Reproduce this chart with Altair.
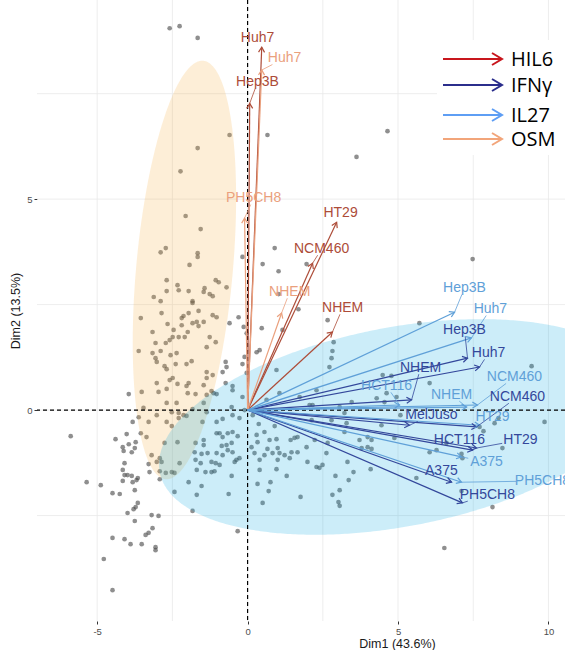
import math

import altair as alt
import numpy as np
import pandas as pd

# ---------------------------------------------------------------------------
# PCA scores of the individual samples (Dim1, Dim2)
# ---------------------------------------------------------------------------
scores = [
    # upper region
    (-2.59, 9.05), (-2.26, 9.10), (-1.66, 8.82), (-0.60, 6.52), (-1.66, 6.21),
    (-2.23, 5.66), (0.66, 6.52), (4.65, 6.61), (3.62, 6.00), (0.90, 3.84),
    (0.50, 3.46), (1.03, 3.29), (1.96, 3.46), (7.48, 3.58), (-0.17, 3.63),
    (1.03, 2.75), (1.69, 2.39), (2.66, 2.13), (-0.13, 1.97), (0.47, 1.94),
    # left cluster, upper part
    (-2.06, 4.60), (-1.56, 4.29), (-2.89, 3.74), (-2.72, 3.84), (-1.66, 3.72),
    (-1.66, 3.63), (-1.93, 3.44), (-2.69, 3.08), (-2.33, 2.96), (-1.06, 3.08),
    (-0.96, 3.03), (-0.70, 2.91), (-2.69, 2.82), (-2.29, 2.84), (-1.96, 2.82),
    (-1.43, 2.89), (-1.46, 2.80), (-1.26, 2.75), (-1.16, 2.70), (-3.12, 2.68),
    (-2.89, 2.58), (-1.83, 2.58), (-1.83, 2.54), (-1.63, 2.35), (-2.86, 2.30),
    (-3.55, 2.18), (-1.96, 2.30), (-2.13, 2.23), (-2.19, 2.18), (-1.16, 2.25),
    (-1.03, 2.20), (-0.60, 2.06), (-0.30, 2.20), (-2.66, 2.04), (-2.19, 2.01),
    (-1.83, 2.06), (-1.69, 2.09), (-1.63, 1.99), (-1.46, 2.09), (-2.46, 1.90),
    (-1.99, 1.85), (-3.16, 1.85), (-1.26, 1.73), (-2.49, 1.73), (-2.29, 1.73),
    (-2.09, 1.73), (-2.59, 1.66), (-2.72, 1.59), (-3.06, 1.59), (-1.36, 1.49),
    (-1.06, 1.61), (-3.62, 1.40), (-3.16, 1.35), (-2.89, 1.40), (-2.56, 1.30),
    (-2.36, 1.35), (-3.06, 1.23), (-3.02, 1.14), (-1.86, 1.16), (-2.03, 1.09),
    (-2.39, 1.09), (-2.76, 1.04), (-2.69, 0.97), (-0.73, 1.14), (-0.70, 1.02),
    (-0.17, 1.09), (-0.10, 1.26), (-1.36, 0.90), (-1.16, 0.83), (-0.83, 0.90),
    (-2.49, 0.76), (-2.59, 0.71), (-3.02, 0.64), (-2.33, 0.62), (-2.03, 0.57),
    (-1.96, 0.64), (-1.46, 0.59), (-1.36, 0.76), (-0.73, 0.64), (-0.50, 0.57),
    (-0.50, 0.47), (-3.95, 0.38), (-3.52, 0.43), (-2.96, 0.43), (-2.69, 0.50),
    (-1.99, 0.40), (-1.73, 0.38), (-1.36, 0.36), (-1.20, 0.45), (-1.13, 0.40),
    (-1.03, 0.38), (-0.17, 0.31),
    # left cluster, lower part
    (-2.69, 0.17), (-2.36, 0.17), (-1.46, 0.17), (-3.46, 0.05), (-3.02, -0.12),
    (-2.52, -0.05), (-2.29, -0.07), (-2.13, -0.12), (-2.03, -0.14), (-1.83, 0.02),
    (-1.36, -0.05), (-3.62, -0.17), (-3.82, -0.28), (-3.29, -0.28), (-2.69, -0.28),
    (-2.52, -0.38), (-2.29, -0.19), (-1.03, -0.28), (-1.50, -0.28), (-0.83, -0.21),
    (-0.50, -0.12), (-0.27, -0.19), (-0.10, 0.00), (-0.53, 0.07), (-5.88, -0.62),
    (-4.39, -0.69), (-4.02, -0.57), (-3.55, -0.55), (-3.36, -0.64), (-3.72, -0.76),
    (-3.95, -0.81), (-4.15, -0.88), (-4.12, -0.97), (-3.85, -1.00), (-3.75, -0.90),
    (-2.76, -0.78), (-2.33, -0.76), (-1.73, -0.78), (-1.46, -0.71), (-1.46, -0.83),
    (-1.03, -0.55), (-0.93, -0.55), (-0.83, -0.64), (-0.66, -0.55), (-0.50, -0.52),
    (-0.33, -0.62), (-0.70, -0.83), (-0.53, -0.78), (-0.86, -0.85), (-1.76, -1.00),
    (-1.53, -1.04), (-1.33, -1.02), (-1.03, -1.02), (-0.83, -1.07), (-0.66, -0.95),
    (-0.50, -1.00), (-0.43, -1.23), (-0.37, -1.18), (-0.27, -1.14), (-3.19, -1.07),
    (-2.92, -1.14), (-3.02, -1.23), (-2.86, -1.23), (-3.29, -1.28), (-2.26, -1.26),
    (-1.73, -1.18), (-1.56, -1.26), (-1.20, -1.23), (-1.06, -1.26), (-0.93, -1.30),
    (-4.09, -1.26), (-3.26, -1.47), (-2.92, -1.45), (-2.72, -1.49), (-2.52, -1.47),
    (-2.43, -1.49), (-1.69, -1.42), (-1.40, -1.47), (-1.20, -1.47), (-1.10, -1.45),
    (-4.15, -1.42), (-4.09, -1.54), (-3.99, -1.54), (-3.85, -1.56), (-3.69, -1.66),
    (-3.65, -1.61), (-4.15, -1.68), (-3.82, -1.71), (-2.92, -1.64), (-1.96, -1.71),
    (-1.53, -1.80), (-1.69, -2.01), (-2.43, -1.94), (-0.53, -1.56), (-0.63, -1.99),
    (-5.35, -1.71), (-4.88, -1.78), (-4.49, -1.97), (-4.25, -1.99), (-3.75, -1.90),
    (-3.65, -2.20), (-3.72, -2.30), (-3.79, -2.35), (-3.99, -2.44), (-3.75, -2.63),
    (-3.19, -2.49), (-2.96, -2.51), (-1.83, -2.39), (-3.16, -2.80), (-3.29, -2.91),
    (-3.39, -2.96), (-4.49, -3.03), (-4.09, -3.06), (-3.89, -3.18), (-3.52, -3.18),
    (-3.06, -3.25), (-3.06, -3.32), (-0.33, -2.87), (-4.78, -3.53), (-4.49, -4.27),
    # right of the vertical axis, below zero
    (0.17, -0.12), (0.37, -0.33), (0.90, -0.38), (0.30, -0.59), (0.56, -0.52),
    (0.73, -0.71), (0.96, -0.69), (0.33, -0.76), (0.13, -0.88), (0.66, -0.92),
    (1.00, -0.90), (1.06, -1.02), (0.83, -1.02), (0.23, -1.02), (0.56, -1.07),
    (0.40, -1.18), (1.00, -1.18), (1.23, -1.07), (1.43, -0.71), (1.56, -0.66),
    (1.46, -1.00), (1.66, -1.00), (1.40, -1.14), (1.99, -1.23), (2.29, -1.35),
    (2.39, -1.37), (2.49, -1.30), (1.96, -0.88), (1.66, -0.64), (2.23, -0.71),
    (2.66, -0.78), (2.62, -1.02), (0.40, -1.42), (0.96, -1.40), (1.30, -1.56),
    (0.33, -1.75), (0.76, -1.71), (0.70, -1.92), (0.50, -2.20), (1.76, -2.06),
    (2.92, -1.56), (3.36, -1.66), (3.52, -1.47), (3.32, -1.23), (4.09, -1.40),
    (3.06, -1.90), (2.82, -2.01), (3.02, -2.18), (3.06, -2.27), (2.79, -0.24),
    (2.13, -0.24), (3.22, -0.52), (3.72, -0.71), (3.99, -0.64), (3.99, -0.88),
    (4.12, -0.92), (3.79, -0.90), (3.29, -0.31), (4.45, -0.36), (4.88, -0.66),
    (5.61, -1.61), (6.05, -1.00), (6.28, -0.95), (6.54, -3.27), (7.11, -1.92),
    (7.14, -1.14), (4.12, -0.71), (3.22, -0.07), (4.55, 0.19), (2.16, 0.12),
    # right of the vertical axis, above zero
    (-0.03, 1.82), (0.30, 1.37), (-0.03, 0.88), (0.40, 1.42), (0.96, 0.95),
    (1.16, 1.90), (2.82, 1.40), (2.79, 1.23), (2.72, 1.02), (2.86, 1.61),
    (5.71, 2.06), (4.49, 0.83), (4.95, 0.31), (4.29, 0.28), (6.05, 0.64),
    (2.29, 0.47), (3.06, 0.07), (1.06, 0.40), (1.73, 0.31), (0.63, 0.24),
    (2.06, 0.12), (3.46, 0.19), (4.62, 0.40),
    # far right
    (9.44, 1.04), (4.78, 0.81), (9.87, -0.28), (8.21, -0.31), (8.34, -0.19),
    (7.71, -0.40), (8.47, -0.90), (7.84, -0.50), (7.11, -1.04), (8.14, -2.30),
    (5.08, -0.12), (6.61, -0.78),
]

# ---------------------------------------------------------------------------
# Variable loadings: one arrow per (treatment, cell line)
# ---------------------------------------------------------------------------
arrow_treatment = (["HIL6"] * 5 + ["OSM"] * 3 + ["IFNγ"] * 9 + ["IL27"] * 8)
arrow_cell = [
    "Huh7", "Hep3B", "HT29", "NCM460", "NHEM",
    "Huh7", "PH5CH8", "NHEM",
    "Hep3B", "Huh7", "NHEM", "NCM460", "MelJuso", "HCT116", "HT29", "A375", "PH5CH8",
    "Hep3B", "Huh7", "NCM460", "NHEM", "HCT116", "HT29", "A375", "PH5CH8",
]
arrow_x = [
    0.47, 0.07, 2.96, 2.16, 2.82,
    0.47, -0.10, 1.13,
    7.31, 7.71, 5.45, 7.61, 5.38, 7.48, 7.61, 6.78, 7.14,
    6.88, 7.44, 7.64, 7.28, 5.05, 7.71, 7.11, 7.11,
]
arrow_y = [
    8.60, 7.27, 4.45, 3.48, 1.85,
    8.06, 4.55, 2.30,
    1.23, 1.02, 0.24, -0.40, -0.36, -0.95, -0.90, -1.71, -2.20,
    2.32, 1.71, 0.12, 0.07, 0.12, -0.36, -1.11, -1.71,
]
label_x = [
    0.33, 0.33, 3.09, 2.46, 3.16,
    1.23, 0.20, 1.40,
    7.21, 8.01, 5.75, 8.97, 6.11, 7.04, 9.07, 6.44, 7.97,
    7.21, 8.07, 8.87, 6.78, 4.62, 8.14, 7.94, 9.80,
]
label_y = [
    8.82, 7.77, 4.67, 3.82, 2.42,
    8.34, 5.02, 2.80,
    1.90, 1.35, 1.00, 0.31, -0.12, -0.71, -0.71, -1.45, -2.01,
    2.89, 2.39, 0.78, 0.36, 0.57, -0.17, -1.23, -1.68,
]

treatments = ["HIL6", "IFNγ", "IL27", "OSM"]
plot_colors = ["#ad4c38", "#33479b", "#5fa0d8", "#eaa07d"]
legend_colors = ["#c8161d", "#2b2e8c", "#5e9ef4", "#f2a57a"]

# Concentration ellipses of the two sample groups (centre, semi-axes, tilt)
ellipses = [
    {"cx": -2.10, "cy": 3.32, "a": 5.0, "b": 1.6, "angle": 82.4, "fill": "#f6b14a"},
    {"cx": 5.00, "cy": -0.40, "a": 8.0, "b": 2.38, "angle": 7.0, "fill": "#16ade3"},
]

grid_x = [-5, -2.5, 0, 2.5, 5, 7.5, 10]
grid_y = [-2.5, 0, 2.5, 5, 7.5]

# ---------------------------------------------------------------------------
# Layout
# ---------------------------------------------------------------------------
X_DOMAIN = [-7.0, 10.55]
Y_DOMAIN = [-5.0, 9.72]
PLOT_W, PLOT_H = 528, 621
SX = PLOT_W / (X_DOMAIN[1] - X_DOMAIN[0])
SY = PLOT_H / (Y_DOMAIN[1] - Y_DOMAIN[0])
LABEL_SIZE = 14
FONT = "Liberation Sans"

xscale = alt.Scale(domain=X_DOMAIN, nice=False, zero=False)
yscale = alt.Scale(domain=Y_DOMAIN, nice=False, zero=False)
color_scale = alt.Scale(domain=treatments, range=plot_colors)

x_axis = alt.Axis(
    values=[-5, 0, 5, 10], labelExpr="datum.value + ''", title="Dim1 (43.6%)",
    grid=False, domain=False, ticks=True, tickSize=3, tickColor="#333333", tickWidth=1,
    labels=True, labelFont=FONT, labelFontSize=9.5, labelColor="#4d4d4d", labelPadding=2,
    titleFont=FONT, titleFontSize=12.5, titleFontWeight="normal", titleColor="#1a1a1a",
    titleX=360, titleY=22, titleBaseline="middle",
)
y_axis = alt.Axis(
    values=[0, 5], labelExpr="datum.value + ''", title="Dim2 (13.5%)",
    grid=False, domain=False, ticks=True, tickSize=3, tickColor="#333333", tickWidth=1,
    labels=True, labelFont=FONT, labelFontSize=9.5, labelColor="#4d4d4d", labelPadding=2,
    titleFont=FONT, titleFontSize=12.5, titleFontWeight="normal", titleColor="#1a1a1a",
    titleX=-22, titleAngle=270, titleBaseline="middle",
)


def xe(field):
    return alt.X(field, type="quantitative", scale=xscale, axis=x_axis)


def ye(field):
    return alt.Y(field, type="quantitative", scale=yscale, axis=y_axis)


def ellipse_band(cx, cy, a, b, angle, n=260):
    """Lower and upper boundary of a tilted ellipse, sampled along x."""
    th = math.radians(angle)
    c, s = math.cos(th), math.sin(th)
    xmax = math.sqrt((a * c) ** 2 + (b * s) ** 2)
    X = -xmax * np.cos(np.linspace(0, np.pi, n))
    A = s * s / (a * a) + c * c / (b * b)
    B = 2 * X * c * s * (1 / (a * a) - 1 / (b * b))
    C = X * X * (c * c / (a * a) + s * s / (b * b)) - 1
    disc = np.sqrt(np.clip(B * B - 4 * A * C, 0, None))
    return pd.DataFrame({
        "x": cx + X,
        "lo": cy + (-B - disc) / (2 * A),
        "hi": cy + (-B + disc) / (2 * A),
    })


# ---------------------------------------------------------------------------
# Tables
# ---------------------------------------------------------------------------
pts = pd.DataFrame(scores, columns=["dim1", "dim2"])

arrows = pd.DataFrame({
    "treatment": arrow_treatment, "cell": arrow_cell,
    "x": arrow_x, "y": arrow_y, "lx": label_x, "ly": label_y,
})
arrows["x0"] = 0.0
arrows["y0"] = 0.0
arrows["angle"] = [
    math.degrees(math.atan2(-y * SY, x * SX)) % 360 for x, y in zip(arrows.x, arrows.y)
]

# repel-style segments from label box edge to the arrow tip
seg_rows = []
for r in arrows.itertuples():
    dxp = (r.x - r.lx) * SX
    dyp = -(r.y - r.ly) * SY
    hw = 0.29 * LABEL_SIZE * len(r.cell) + 2
    hh = 0.45 * LABEL_SIZE
    if abs(dxp) <= hw and abs(dyp) <= hh:
        continue
    t = min(hw / abs(dxp) if dxp else 1e9, hh / abs(dyp) if dyp else 1e9)
    if (1 - t) * math.hypot(dxp, dyp) < 4:
        continue
    seg_rows.append({
        "treatment": r.treatment,
        "sx": r.lx + t * (r.x - r.lx), "sy": r.ly + t * (r.y - r.ly),
        "ex": r.x, "ey": r.y,
    })
segs = pd.DataFrame(seg_rows)

color = alt.Color("treatment:N", scale=color_scale, legend=None)

# ---------------------------------------------------------------------------
# Layers
# ---------------------------------------------------------------------------
grid_v = alt.Chart(pd.DataFrame({"g": grid_x})).mark_rule(
    color="#e9e9e9", strokeWidth=0.8
).encode(x=xe("g"))
grid_h = alt.Chart(pd.DataFrame({"g": grid_y})).mark_rule(
    color="#e9e9e9", strokeWidth=0.8
).encode(y=ye("g"))

points = alt.Chart(pts).mark_circle(size=22, color="#444444", opacity=0.6).encode(
    x=xe("dim1"), y=ye("dim2")
)

ellipse_layers = [
    alt.Chart(ellipse_band(e["cx"], e["cy"], e["a"], e["b"], e["angle"])).mark_area(
        color=e["fill"], opacity=0.22, clip=True, orient="vertical"
    ).encode(x=xe("x"), y=ye("lo"), y2="hi")
    for e in ellipses
]

zero_v = alt.Chart(pd.DataFrame({"z": [0]})).mark_rule(
    color="black", strokeDash=[4, 3], strokeWidth=1.2
).encode(x=xe("z"))
zero_h = alt.Chart(pd.DataFrame({"z": [0]})).mark_rule(
    color="black", strokeDash=[4, 3], strokeWidth=1.2
).encode(y=ye("z"))

shafts = alt.Chart(arrows).mark_rule(strokeWidth=1.2).encode(
    x=xe("x0"), y=ye("y0"), x2="x", y2="y", color=color
)
CHEVRON = "M-1,-0.6L0,0L-1,0.6"
heads = alt.Chart(arrows).mark_point(
    shape=CHEVRON, filled=False, size=100, strokeWidth=1.2, opacity=1
).encode(x=xe("x"), y=ye("y"), angle=alt.Angle("angle:Q", scale=None), color=color)

connectors = alt.Chart(segs).mark_rule(strokeWidth=0.8).encode(
    x=xe("sx"), y=ye("sy"), x2="ex", y2="ey", color=color
)

labels = alt.Chart(arrows).mark_text(
    font=FONT, fontSize=LABEL_SIZE, clip=True
).encode(x=xe("lx"), y=ye("ly"), text="cell:N", color=color)

# hand-drawn arrow legend in the upper right corner
legend_layers = [
    alt.Chart(pd.DataFrame({"k": [0]})).mark_rect(color="white").encode(
        x=alt.value(400), x2=alt.value(PLOT_W), y=alt.value(40), y2=alt.value(155)
    )
]
legend_rows_y = [59, 85, 115, 139]
for name, col, ly in zip(treatments, legend_colors, legend_rows_y):
    legend_layers.append(
        alt.Chart(pd.DataFrame({"k": [0]})).mark_rule(color=col, strokeWidth=2).encode(
            x=alt.value(406), x2=alt.value(465), y=alt.value(ly)
        )
    )
    legend_layers.append(
        alt.Chart(pd.DataFrame({"k": [0]})).mark_point(
            shape=CHEVRON, filled=False, size=400, strokeWidth=2, color=col, opacity=1
        ).encode(x=alt.value(465), y=alt.value(ly))
    )
    legend_layers.append(
        alt.Chart(pd.DataFrame({"name": [name]})).mark_text(
            font="Open Sans", fontSize=20, color="black", align="left", baseline="middle"
        ).encode(x=alt.value(474), y=alt.value(ly + 1), text="name:N")
    )

chart = alt.layer(
    grid_v, grid_h, points, *ellipse_layers, zero_v, zero_h,
    shafts, heads, connectors, labels, *legend_layers,
).properties(
    width=PLOT_W, height=PLOT_H,
    autosize=alt.AutoSizeParams(type="none"),
    padding={"left": 37, "top": 0, "right": 0, "bottom": 29},
    background="white",
).configure_view(stroke=None)

chart.save("out.html", embed_options={"renderer": "svg", "actions": False})
